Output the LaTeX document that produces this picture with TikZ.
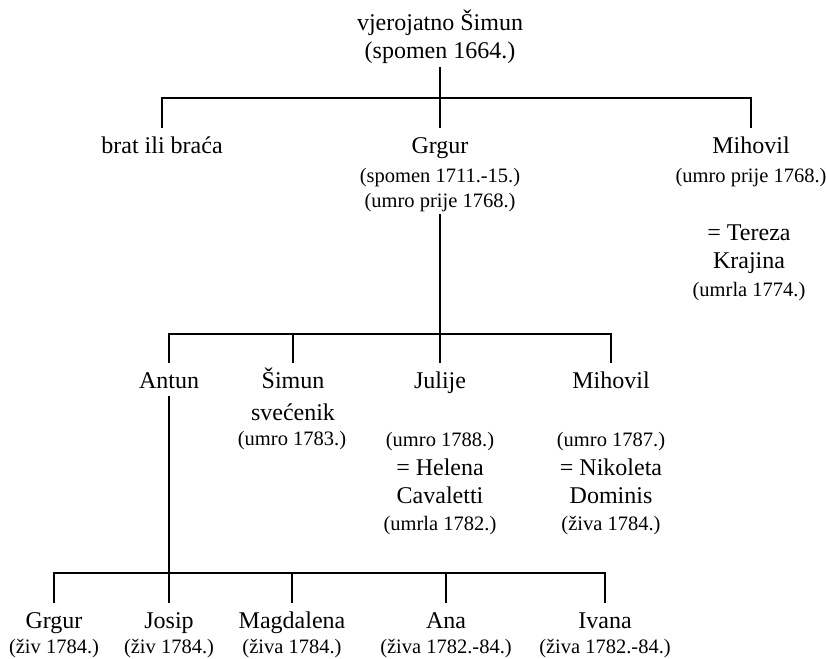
\documentclass[tikz,border=0pt]{standalone}
\usepackage{fontspec}
\setmainfont{Liberation Serif}
\begin{document}
\begin{tikzpicture}[x=1pt,y=-1pt,
  big/.style={font=\fontsize{24}{28}\selectfont, text height=17pt, text depth=0pt, inner xsep=0pt, inner ysep=8.5pt, anchor=base},
  small/.style={font=\fontsize{20.5}{24}\selectfont, text height=14pt, text depth=0pt, inner xsep=0pt, inner ysep=8pt, anchor=base},
  link/.style={line width=1.7pt, line cap=rect, line join=miter}]
\useasboundingbox (0,0) rectangle (826,658);
% generation 0
\node[big] (s0) at (440,31) {vjerojatno Šimun};
\node[big] (s0d) at (440,59) {(spomen 1664.)};
% generation 1
\node[big] (brat) at (162,153) {brat ili braća};
\node[big] (g1) at (440,153) {Grgur};
\node[small] (g1a) at (440,182) {(spomen 1711.-15.)};
\node[small] (g1b) at (440,207) {(umro prije 1768.)};
\node[big] (m1) at (751,153) {Mihovil};
\node[small] (m1a) at (751,182) {(umro prije 1768.)};
\node[big] (t1) at (749,240) {= Tereza};
\node[big] (t2) at (749,268) {Krajina};
\node[small] (t3) at (749,296) {(umrla 1774.)};
% generation 2
\node[big] (antun) at (169,388) {Antun};
\node[big] (simun) at (293,388) {Šimun};
\node[big] (simuna) at (293,420) {svećenik};
\node[small] (simunb) at (292,445) {(umro 1783.)};
\node[big] (julije) at (440,388) {Julije};
\node[small] (juliea) at (440,446) {(umro 1788.)};
\node[big] (hel1) at (440,475) {= Helena};
\node[big] (hel2) at (440,503) {Cavaletti};
\node[small] (hel3) at (440,530) {(umrla 1782.)};
\node[big] (m2) at (611,388) {Mihovil};
\node[small] (m2a) at (611,446) {(umro 1787.)};
\node[big] (nik1) at (611,475) {= Nikoleta};
\node[big] (nik2) at (611,503) {Dominis};
\node[small] (nik3) at (611,530) {(živa 1784.)};
% generation 3
\node[big] (grgur3) at (54,628) {Grgur};
\node[small] (grgur3a) at (54,653) {(živ 1784.)};
\node[big] (josip) at (169,628) {Josip};
\node[small] (josipa) at (169,653) {(živ 1784.)};
\node[big] (magda) at (292,628) {Magdalena};
\node[small] (magdaa) at (292,653) {(živa 1784.)};
\node[big] (ana) at (446,628) {Ana};
\node[small] (anaa) at (446,653) {(živa 1782.-84.)};
\node[big] (ivana) at (605,628) {Ivana};
\node[small] (ivanaa) at (605,653) {(živa 1782.-84.)};
% bar levels
\coordinate (j1) at (440,98);
\coordinate (j2) at (440,334);
\coordinate (j3) at (169,573);
% connectors
\draw[link] (s0d.south) -- (g1.north);
\draw[link] (brat.north) -- (brat.north |- j1) -- (m1.north |- j1) -- (m1.north);
\draw[link] (g1b.south) -- (julije.north);
\draw[link] (antun.north) -- (antun.north |- j2) -- (m2.north |- j2) -- (m2.north);
\draw[link] (simun.north) -- (simun.north |- j2);
\draw[link] (antun.south) -- (josip.north);
\draw[link] (grgur3.north) -- (grgur3.north |- j3) -- (ivana.north |- j3) -- (ivana.north);
\draw[link] (magda.north) -- (magda.north |- j3);
\draw[link] (ana.north) -- (ana.north |- j3);
\end{tikzpicture}
\end{document}
